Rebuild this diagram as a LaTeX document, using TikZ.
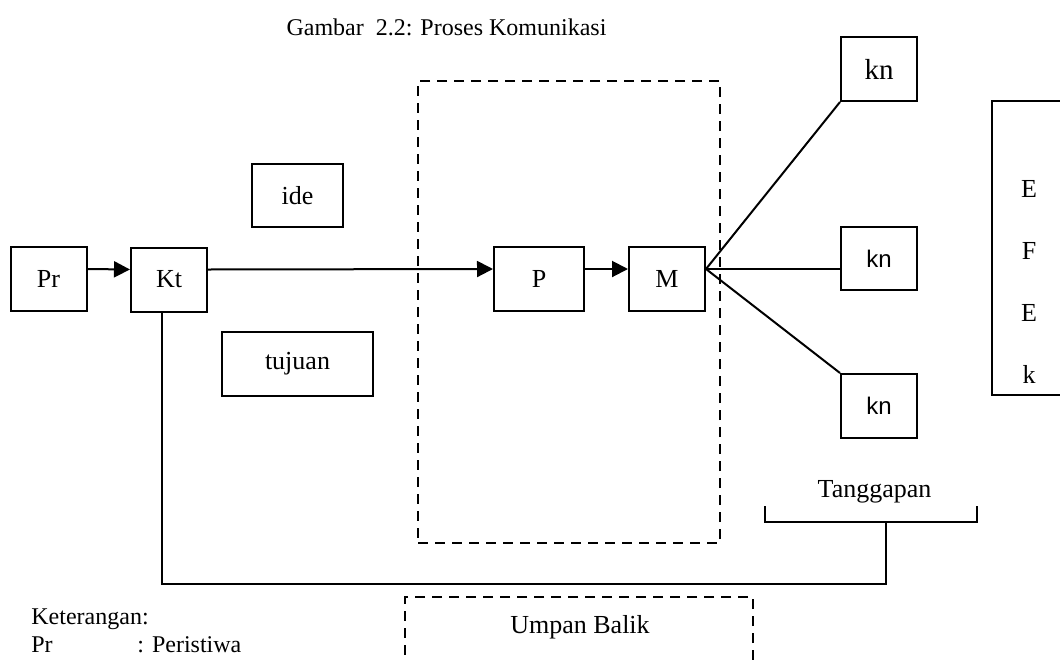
\documentclass[tikz,border=0pt]{standalone}
\usepackage{fontspec}
\setmainfont{Liberation Serif}
\newfontfamily\knfont{Liberation Sans}
\usetikzlibrary{arrows.meta}

\begin{document}
\begin{tikzpicture}[x=0.5pt, y=-0.5pt,
  box/.style={draw, line width=1pt, inner sep=0pt,
    font=\fontsize{13}{15.6}\selectfont},
  dashbox/.style={draw, line width=1pt, dash pattern=on 5pt off 3.5pt, inner sep=0pt},
  link/.style={line width=1pt},
  flow/.style={link, -{Triangle[length=8pt, width=8pt]}},
  txt/.style={inner sep=0pt, font=\fontsize{12}{14.4}\selectfont}]
\clip (0,0) rectangle (1060,659);

% caption
\node[txt, anchor=base] (judul) at (446.5,35) {Gambar\ \ 2.2: Proses Komunikasi};

% saluran (dashed)
\node[dashbox, minimum width=151pt, minimum height=231pt] (saluran) at (569,312) {};

\node[box, minimum width=38pt, minimum height=32pt] (Pr) at (48.5,279) {Pr};
\node[box, minimum width=38pt, minimum height=32pt] (Kt) at (169,279.5) {Kt};
\node[box, minimum width=45.5pt, minimum height=31.5pt] (ide) at (297.5,195.5) {ide};
\node[box, minimum width=75.5pt, minimum height=32pt] (tujuan) at (297.5,364) {tujuan};
\node[box, minimum width=45pt, minimum height=32pt] (P) at (539,279) {P};
\node[box, minimum width=38pt, minimum height=32pt] (M) at (667,279) {M};

% komunikan
\node[box, minimum width=38pt, minimum height=32pt,
  font=\fontsize{14.5}{17}\selectfont] (kn1) at (879,69) {kn};
\node[box, minimum width=38pt, minimum height=31.5pt,
  font=\knfont\fontsize{12}{14.4}\selectfont] (kn2) at (879,258.5) {kn};
\node[box, minimum width=38pt, minimum height=32pt,
  font=\knfont\fontsize{12}{14.4}\selectfont] (kn3) at (879,406) {kn};

% efek
\node[box, minimum width=37pt, minimum height=147pt] (efek) at (1029,248) {};
\node[align=center, inner sep=0pt, font=\fontsize{13}{31}\selectfont]
  (efektxt) at (1029,281.5) {E\\F\\E\\k};

\draw[flow] ([yshift=5pt]Pr.east) -- ([yshift=5pt]Kt.west);
\draw[flow] ([yshift=5pt]Kt.east) -- ([yshift=5pt]P.west);
\draw[flow] ([yshift=5pt]P.east) -- ([yshift=5pt]M.west);
\draw[link] ([yshift=5pt]M.east) -- (kn1.south west);
\draw[link] ([yshift=5pt]M.east) -- ([yshift=-5.25pt]kn2.west);
\draw[link] ([yshift=5pt]M.east) -- (kn3.north west);

% tanggapan
\node[txt, anchor=base, font=\fontsize{13}{15.6}\selectfont] (tanggapan) at (874.5,497) {Tanggapan};
\coordinate (tgl) at (765,506);
\coordinate (tgr) at (977,506);
\coordinate (tgm) at (886,522);
\coordinate (balik) at (886,584);
\draw[link] (tgl) |- (tgr |- tgm) -- (tgr);
\draw[link] ([xshift=-3.5pt]Kt.south) |- (balik) -- (tgm);

% umpan balik
\node[dashbox, minimum width=174pt, minimum height=53pt] (umpan) at (579,650) {};
\node[txt, anchor=base, font=\fontsize{13}{15.6}\selectfont] (umpantxt) at (580,633) {Umpan Balik};

% keterangan
\node[txt, anchor=base west] (ket) at (31,624) {Keterangan:};
\node[txt, anchor=base west] (ketpr) at (31,652) {Pr};
\node[txt, anchor=base west] (ketpr2) at (137,652) {: Peristiwa};
\end{tikzpicture}
\end{document}
